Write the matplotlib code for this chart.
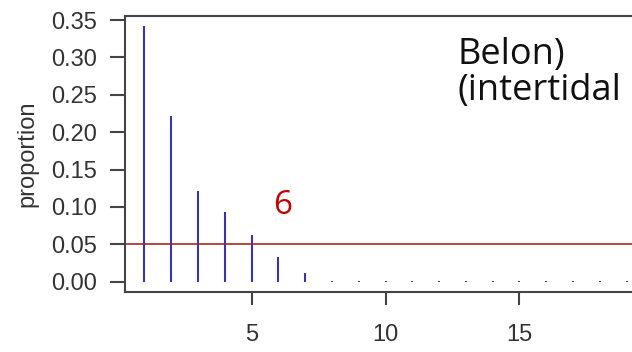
import numpy as np
import matplotlib
matplotlib.use("Agg")
import matplotlib.pyplot as plt

# values
sizes = list(range(1, 20))
proportion = [0.342, 0.221, 0.121, 0.093, 0.062, 0.033, 0.012,
              0.001, 0.001, 0.001, 0.001, 0.001, 0.001, 0.001,
              0.001, 0.001, 0.001, 0.001, 0.001]
cutoff = 0.05
cutoff_label = "6"
site_label = "Belon)\n(intertidal"
y_ticks = [0.00, 0.05, 0.10, 0.15, 0.20, 0.25, 0.30, 0.35]
x_ticks = [5, 10, 15]

axis_col = "#444444"
text_col = "#333333"

fig = plt.figure(figsize=(6.32, 3.52), dpi=100)
ax = fig.add_axes([0.198, 0.171, 0.824, 0.784])

ax.vlines(sizes, 0, proportion, color="#3535b0", linewidth=1.5)
ax.axhline(cutoff, color="#b22222", linewidth=1.2)

# R style 4% padding
ymax = max(proportion)
ax.set_xlim(1 - 0.04 * 18, 19 + 0.04 * 18)
ax.set_ylim(-0.04 * ymax, ymax * 1.04)

ax.set_yticks(y_ticks)
ax.set_yticklabels([f"{v:.2f}" for v in y_ticks])
ax.set_xticks(x_ticks)

for s in ax.spines.values():
    s.set_color(axis_col)
    s.set_linewidth(1.5)

ax.tick_params(axis="y", length=10.5, width=1.5, color=axis_col,
               labelsize=17, labelcolor=text_col, pad=10)
ax.tick_params(axis="x", length=9, width=1.5, color=axis_col,
               labelsize=17, labelcolor=text_col, pad=14)
for lab in ax.get_xticklabels() + ax.get_yticklabels():
    lab.set_family("Liberation Sans")

ax.set_ylabel("proportion", fontsize=17, color=text_col,
              family="Liberation Sans", labelpad=9)

ax.text(6.17, 0.1025, cutoff_label, color="#c00000", fontsize=24,
        family="Open Sans", ha="center", va="center")
ax.text(12.7, 0.328, site_label, color="#111111", fontsize=26,
        family="Open Sans", ha="left", va="top", linespacing=1.0)

fig.savefig("out.png", dpi=100)
